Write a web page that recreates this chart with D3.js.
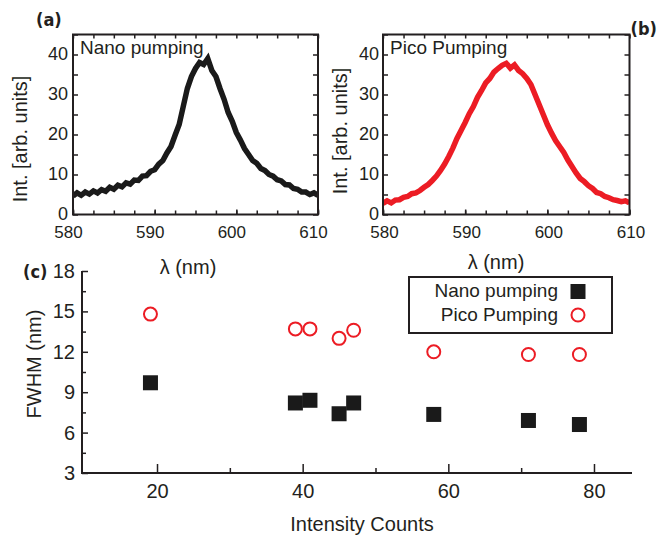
<!DOCTYPE html>
<html>
<head>
<meta charset="utf-8">
<script src="https://cdn.jsdelivr.net/npm/d3@7"></script>
<style>
  body { margin: 0; background: #fff; }
  text { font-family: "Liberation Sans", Arial, sans-serif; fill: #231f20; }
  .tag { font-family: "Liberation Sans Narrow", "DejaVu Sans Condensed", sans-serif; font-weight: bold; }
</style>
</head>
<body>
<svg id="fig" width="659" height="539"></svg>
<script>
// spectra, read every 0.5 nm from 580 to 610
var wl_start = 580, wl_end = 610, wl_step = 0.5;
var nano_spectrum = [4.6, 5.4, 4.8, 5.6, 5.1, 5.9, 5.4, 6.2, 5.8, 6.8, 6.3, 7.3, 6.9, 7.9, 7.6, 8.6,
  8.5, 9.6, 9.7, 10.8, 11.2, 12.6, 13.5, 15.4, 17.0, 19.8, 22.5, 27.0, 31.5, 34.5, 36.5, 38.0,
  37.5, 39.0, 36.0, 34.5, 31.5, 28.8, 25.5, 23.3, 20.5, 18.6, 16.5, 15.0, 13.5, 12.8, 11.5, 11.0,
  10.0, 9.6, 8.7, 8.4, 7.5, 7.4, 6.5, 6.3, 5.6, 5.6, 5.0, 5.4, 4.8];
var pico_spectrum = [2.8, 3.4, 2.9, 3.6, 3.7, 4.3, 4.5, 5.2, 5.4, 6.0, 6.8, 7.5, 8.5, 9.6, 11.0, 12.6,
  14.5, 16.6, 19.0, 21.0, 23.0, 25.2, 27.0, 29.3, 31.0, 32.9, 34.0, 35.6, 36.5, 37.3, 37.8, 36.6,
  37.4, 36.0, 35.2, 34.0, 32.5, 30.0, 27.5, 25.0, 22.5, 20.4, 18.5, 17.0, 15.5, 13.6, 12.0, 10.4,
  9.0, 8.2, 7.2, 6.5, 5.5, 5.2, 4.5, 4.2, 3.7, 3.5, 3.2, 3.4, 2.9];

var wl_ticks = [580, 590, 600, 610];
var int_ticks = [0, 10, 20, 30, 40];

// panel (c)
var counts = [19.1, 39, 41, 45, 47, 58, 71, 78];
var nano_fwhm = [9.7, 8.2, 8.4, 7.4, 8.2, 7.35, 6.9, 6.6];
var pico_fwhm = [14.8, 13.7, 13.7, 13.0, 13.6, 12.0, 11.8, 11.8];
var count_ticks = [20, 40, 60, 80];
var count_minor = [30, 50, 70];
var fwhm_ticks = [3, 6, 9, 12, 15, 18];
var fwhm_minor = [4.5, 7.5, 10.5, 13.5, 16.5];

var ink = "#231f20";
var red = "#ec1c24";
var svg = d3.select("#fig");
svg.append("rect").attr("width", 659).attr("height", 539).attr("fill", "#fff");

function styleAxis(g, fs) {
  g.select(".domain").remove();
  g.selectAll(".tick line").attr("stroke", ink).attr("stroke-width", 1.5);
  g.selectAll("text").style("font-size", fs + "px").attr("fill", ink)
    .style("font-family", "'Liberation Sans', Arial, sans-serif");
}

function spectrumPanel(opt) {
  var x = d3.scaleLinear().domain([wl_start, wl_end]).range([opt.left, opt.right]);
  var y = d3.scaleLinear().domain([0, 45]).range([214.5, 34.5]);
  var g = svg.append("g");
  var wl = d3.range(wl_start, wl_end + wl_step / 2, wl_step);
  var pts = wl.map(function(w, i) { return [w, opt.values[i]]; });

  var clipId = "clip" + opt.id;
  svg.append("clipPath").attr("id", clipId).append("rect")
     .attr("x", opt.left).attr("y", 34.5).attr("width", opt.right - opt.left).attr("height", 180);

  g.append("path").datum(pts)
   .attr("clip-path", "url(#" + clipId + ")")
   .attr("fill", "none").attr("stroke", opt.color).attr("stroke-width", 5.5)
   .attr("stroke-linejoin", "miter").attr("stroke-miterlimit", 3)
   .attr("d", d3.line().x(function(d) { return x(d[0]); }).y(function(d) { return y(d[1]); }));

  var minorX = d3.range(580, 610.1, 2.5);
  var minorY = d3.range(0, 45.1, 5);

  var bx = g.append("g").attr("transform", "translate(0,214.5)")
    .call(d3.axisBottom(x).tickValues(minorX).tickFormat("").tickSize(-4));
  styleAxis(bx, 17);
  var bl = g.append("g").attr("transform", "translate(0,214.5)")
    .call(d3.axisBottom(x).tickValues(wl_ticks).tickSize(-5).tickPadding(11).tickFormat(d3.format("d")));
  styleAxis(bl, 17);
  bl.selectAll("text").attr("dx", opt.labelShift);
  var tx = g.append("g").attr("transform", "translate(0,34.5)")
    .call(d3.axisTop(x).tickValues(minorX).tickFormat("").tickSize(-4));
  styleAxis(tx, 17);

  var ly = g.append("g").attr("transform", "translate(" + opt.left + ",0)")
    .call(d3.axisLeft(y).tickValues(minorY).tickSize(-5).tickPadding(opt.ypad)
      .tickFormat(function(d) { return int_ticks.indexOf(d) >= 0 ? d : ""; }));
  styleAxis(ly, 18);
  ly.selectAll("text").attr("dy", "0.25em");
  var ry = g.append("g").attr("transform", "translate(" + opt.right + ",0)")
    .call(d3.axisRight(y).tickValues(minorY).tickFormat("").tickSize(-5));
  styleAxis(ry, 18);

  g.append("rect").attr("x", opt.left).attr("y", 34.5)
   .attr("width", opt.right - opt.left).attr("height", 180)
   .attr("fill", "none").attr("stroke", ink).attr("stroke-width", 2);

  g.append("text").attr("x", opt.left + 7).attr("y", 54)
   .style("font-size", "19px").text(opt.name);

  g.append("text").attr("transform", "translate(" + opt.ytx + "," + opt.yty + ") rotate(-90)")
   .attr("text-anchor", "middle").attr("dy", "0.35em")
   .style("font-size", "20px").text("Int. [arb. units]");

  g.append("text").attr("x", opt.lx).attr("y", opt.ly)
   .attr("text-anchor", "middle").style("font-size", "20px").text("λ (nm)");
}

spectrumPanel({id: "a", left: 73, right: 318, values: nano_spectrum, color: "#1a1a1a",
  name: "Nano pumping", ypad: 5, labelShift: -5, ytx: 20, yty: 139, lx: 188, ly: 274});
spectrumPanel({id: "b", left: 383, right: 629.5, values: pico_spectrum, color: red,
  name: "Pico Pumping", ypad: 4, labelShift: 1, ytx: 340, yty: 131, lx: 496, ly: 269});

svg.append("text").attr("class", "tag").attr("x", 36).attr("y", 26).style("font-size", "18px").text("(a)");
svg.append("text").attr("class", "tag").attr("x", 657).attr("y", 35).attr("text-anchor", "end")
   .style("font-size", "18px").text("(b)");
svg.append("text").attr("class", "tag").attr("x", 23).attr("y", 278).style("font-size", "18px").text("(c)");

// panel (c)
var xc = d3.scaleLinear().domain([9.7, 85.22]).range([82, 632]);
var yc = d3.scaleLinear().domain([3, 18]).range([473, 271]);
var gc = svg.append("g");

var cxm = gc.append("g").attr("transform", "translate(0,473)")
  .call(d3.axisBottom(xc).tickValues(count_minor).tickFormat("").tickSize(-5));
styleAxis(cxm, 20);
var cx = gc.append("g").attr("transform", "translate(0,473)")
  .call(d3.axisBottom(xc).tickValues(count_ticks).tickSize(-9).tickPadding(11));
styleAxis(cx, 20);
var cym = gc.append("g").attr("transform", "translate(82,0)")
  .call(d3.axisLeft(yc).tickValues(fwhm_minor).tickFormat("").tickSize(-4));
styleAxis(cym, 20);
var cy = gc.append("g").attr("transform", "translate(82,0)")
  .call(d3.axisLeft(yc).tickValues(fwhm_ticks).tickSize(-6).tickPadding(7));
styleAxis(cy, 20);

gc.append("path")
  .attr("d", "M" + xc.range()[0] + "," + yc.range()[1] + "V" + yc.range()[0] + "H" + xc.range()[1])
  .attr("fill", "none").attr("stroke", ink).attr("stroke-width", 2);

gc.selectAll("rect.nano").data(counts).enter().append("rect").attr("class", "nano")
  .attr("x", function(d) { return xc(d) - 7.5; })
  .attr("y", function(d, i) { return yc(nano_fwhm[i]) - 7.5; })
  .attr("width", 15).attr("height", 15).attr("fill", "#1a1a1a");

gc.selectAll("circle.pico").data(counts).enter().append("circle").attr("class", "pico")
  .attr("cx", function(d) { return xc(d); })
  .attr("cy", function(d, i) { return yc(pico_fwhm[i]); })
  .attr("r", 6.5).attr("fill", "none").attr("stroke", red).attr("stroke-width", 2);

gc.append("text").attr("transform", "translate(34,364) rotate(-90)")
  .attr("text-anchor", "middle").attr("dy", "0.35em")
  .style("font-size", "20px").text("FWHM (nm)");
gc.append("text").attr("x", 362).attr("y", 531).attr("text-anchor", "middle")
  .style("font-size", "20px").text("Intensity Counts");

// legend
var lg = gc.append("g");
lg.append("rect").attr("x", 409).attr("y", 277).attr("width", 203).attr("height", 56)
  .attr("fill", "#fff").attr("stroke", ink).attr("stroke-width", 2);
lg.append("text").attr("x", 558).attr("y", 297).attr("text-anchor", "end")
  .style("font-size", "19px").text("Nano pumping");
lg.append("text").attr("x", 558).attr("y", 321).attr("text-anchor", "end")
  .style("font-size", "19px").text("Pico Pumping");
lg.append("rect").attr("x", 578 - 7.5).attr("y", 291.5 - 7.5).attr("width", 15).attr("height", 15)
  .attr("fill", "#1a1a1a");
lg.append("circle").attr("cx", 578).attr("cy", 315).attr("r", 6.5)
  .attr("fill", "none").attr("stroke", red).attr("stroke-width", 2);
</script>
</body>
</html>
